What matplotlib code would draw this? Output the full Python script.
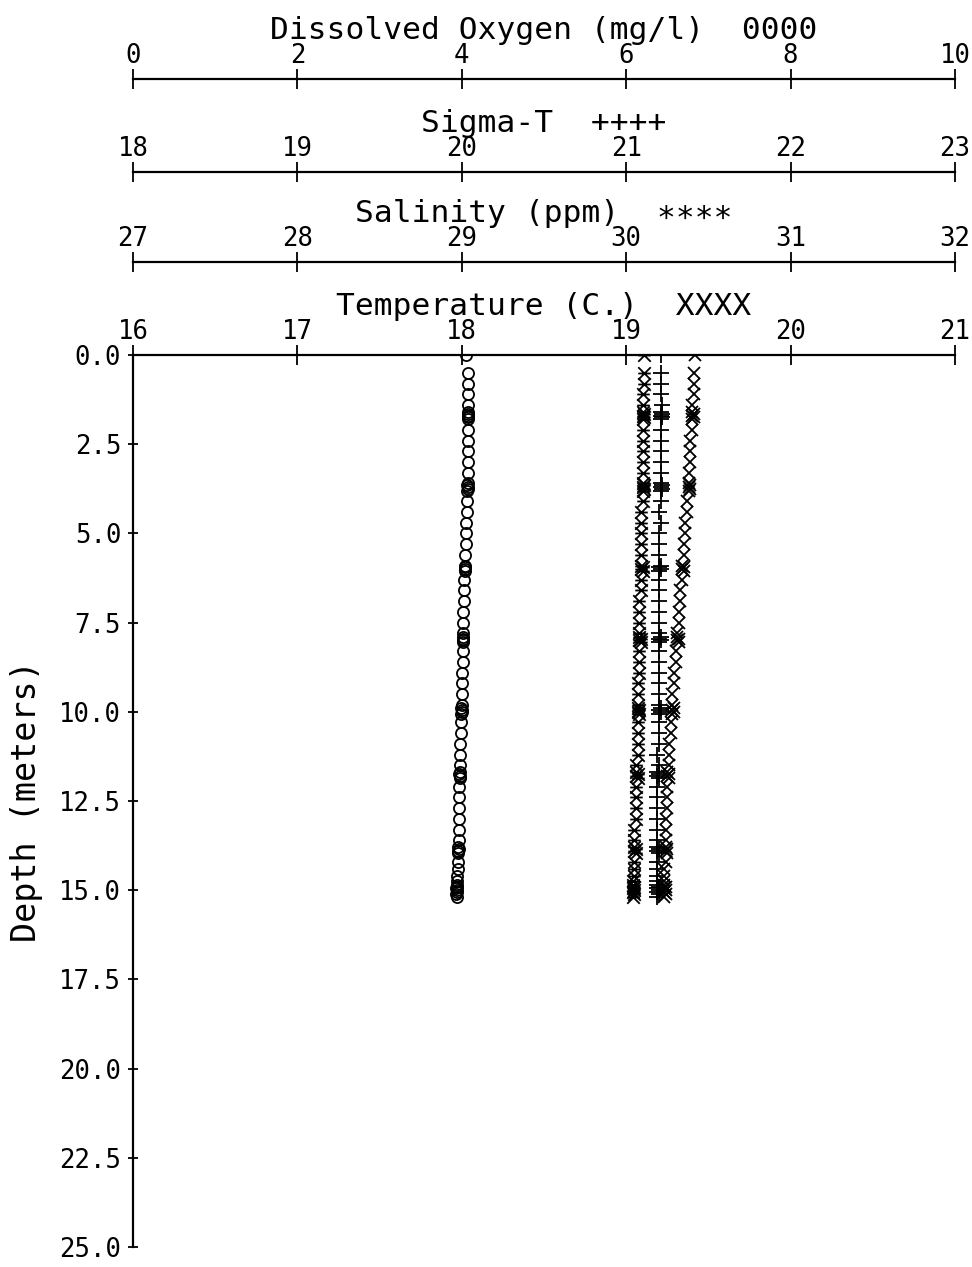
import matplotlib
matplotlib.use('Agg')
import matplotlib.pyplot as plt
from matplotlib.path import Path

plt.rcParams['font.family'] = ['DejaVu Sans Mono', 'DejaVu Sans']

# depth of each cast sample (m)
depth = [0.0, 0.5, 0.8, 1.1, 1.4, 1.6, 1.65, 1.7, 1.75, 1.8,
         2.1, 2.4, 2.7, 3.0, 3.3, 3.6, 3.65, 3.7, 3.75, 3.8,
         4.1, 4.4, 4.7, 5.0, 5.3, 5.6, 5.9, 5.95, 6.0, 6.05,
         6.3, 6.6, 6.9, 7.2, 7.5, 7.8, 7.9, 7.95, 8.0, 8.05,
         8.3, 8.6, 8.9, 9.2, 9.5, 9.8, 9.9, 9.95, 10.0, 10.05,
         10.3, 10.6, 10.9, 11.2, 11.5, 11.7, 11.75, 11.8, 11.85, 12.1,
         12.4, 12.7, 13.0, 13.3, 13.6, 13.8, 13.85, 13.9, 13.95, 14.2,
         14.4, 14.6, 14.75, 14.85, 14.9, 14.95, 15.0, 15.05, 15.1, 15.2]

oxygen = [4.05, 4.07, 4.07, 4.08, 4.08, 4.08, 4.07, 4.08, 4.08, 4.07,
          4.08, 4.08, 4.07, 4.07, 4.07, 4.07, 4.06, 4.07, 4.07, 4.06,
          4.06, 4.06, 4.05, 4.05, 4.05, 4.04, 4.04, 4.04, 4.04, 4.04,
          4.03, 4.03, 4.03, 4.02, 4.02, 4.02, 4.01, 4.02, 4.02, 4.01,
          4.01, 4.01, 4.00, 4.00, 4.00, 4.00, 3.99, 4.00, 4.00, 3.99,
          3.99, 3.99, 3.98, 3.98, 3.98, 3.98, 3.97, 3.98, 3.98, 3.97,
          3.97, 3.97, 3.96, 3.96, 3.96, 3.95, 3.96, 3.95, 3.95, 3.95,
          3.95, 3.94, 3.94, 3.94, 3.94, 3.93, 3.94, 3.94, 3.93, 3.94]

sigma_t = [21.21, 21.21, 21.21, 21.21, 21.22, 21.21, 21.22, 21.21, 21.22, 21.21,
           21.21, 21.21, 21.21, 21.21, 21.21, 21.21, 21.22, 21.21, 21.22, 21.21,
           21.21, 21.20, 21.21, 21.20, 21.20, 21.20, 21.21, 21.20, 21.21, 21.20,
           21.20, 21.20, 21.20, 21.20, 21.20, 21.20, 21.21, 21.20, 21.21, 21.20,
           21.20, 21.20, 21.20, 21.20, 21.20, 21.20, 21.21, 21.20, 21.21, 21.20,
           21.20, 21.20, 21.20, 21.19, 21.20, 21.19, 21.20, 21.19, 21.20, 21.19,
           21.19, 21.19, 21.19, 21.19, 21.19, 21.19, 21.20, 21.19, 21.20, 21.19,
           21.19, 21.19, 21.19, 21.19, 21.20, 21.19, 21.20, 21.19, 21.20, 21.19]

salinity = [30.11, 30.11, 30.11, 30.10, 30.10, 30.10, 30.11, 30.10, 30.11, 30.10,
            30.10, 30.10, 30.10, 30.10, 30.10, 30.10, 30.11, 30.10, 30.11, 30.10,
            30.10, 30.09, 30.09, 30.09, 30.09, 30.09, 30.09, 30.10, 30.09, 30.10,
            30.09, 30.09, 30.08, 30.08, 30.08, 30.08, 30.08, 30.09, 30.08, 30.09,
            30.08, 30.08, 30.08, 30.07, 30.07, 30.07, 30.07, 30.08, 30.07, 30.08,
            30.07, 30.07, 30.07, 30.07, 30.06, 30.06, 30.07, 30.06, 30.07, 30.06,
            30.06, 30.06, 30.06, 30.05, 30.05, 30.05, 30.06, 30.05, 30.06, 30.05,
            30.05, 30.05, 30.04, 30.04, 30.05, 30.04, 30.05, 30.04, 30.05, 30.04]

temperature = [19.42, 19.41, 19.41, 19.41, 19.40, 19.40, 19.41, 19.40, 19.41, 19.40,
               19.40, 19.39, 19.39, 19.39, 19.38, 19.38, 19.39, 19.38, 19.39, 19.38,
               19.37, 19.37, 19.36, 19.36, 19.35, 19.35, 19.34, 19.35, 19.34, 19.35,
               19.34, 19.33, 19.33, 19.32, 19.32, 19.31, 19.31, 19.32, 19.31, 19.32,
               19.30, 19.30, 19.29, 19.29, 19.28, 19.28, 19.29, 19.28, 19.29, 19.28,
               19.27, 19.27, 19.26, 19.26, 19.26, 19.25, 19.26, 19.25, 19.26, 19.25,
               19.25, 19.25, 19.24, 19.24, 19.24, 19.24, 19.25, 19.24, 19.25, 19.24,
               19.23, 19.23, 19.23, 19.23, 19.24, 19.23, 19.24, 19.23, 19.24, 19.23]

depth_ticks = [0.0, 2.5, 5.0, 7.5, 10.0, 12.5, 15.0, 17.5, 20.0, 22.5, 25.0]
temp_ticks = [16, 17, 18, 19, 20, 21]
sal_ticks = [27, 28, 29, 30, 31, 32]
sig_ticks = [18, 19, 20, 21, 22, 23]
do_ticks = [0, 2, 4, 6, 8, 10]

TICK_FS = 18.5
LABEL_FS = 22.5
LW = 1.6

fig = plt.figure(figsize=(9.72, 12.67), dpi=100)
ax = fig.add_axes([0.13683, 0.01579, 0.84568, 0.70403])
ax.set_xlim(16, 21)
ax.set_ylim(25, 0)


def make_scale(offset, lim, ticks, label):
    t = ax.twiny()
    t.set_xlim(lim)
    for s in ['left', 'right', 'bottom']:
        t.spines[s].set_visible(False)
    t.spines['top'].set_position(('outward', offset))
    t.spines['top'].set_linewidth(LW)
    t.set_xticks(ticks)
    t.tick_params(axis='x', direction='inout', length=14, width=1.3,
                  labelsize=TICK_FS, pad=0)
    t.set_xlabel(label, fontsize=LABEL_FS, labelpad=3)
    return t


ax_sal = make_scale(67, (27, 32), sal_ticks, 'Salinity (ppm)  \u2217\u2217\u2217\u2217')
ax_sig = make_scale(132, (18, 23), sig_ticks, 'Sigma-T  ++++')
ax_do = make_scale(199, (0, 10), do_ticks, 'Dissolved Oxygen (mg/l)  0000')

# twiny() moves the main x ticks to the bottom, so set the main axis up afterwards
ax.spines['right'].set_visible(False)
ax.spines['bottom'].set_visible(False)
ax.spines['left'].set_linewidth(LW)
ax.spines['top'].set_linewidth(LW)
ax.xaxis.tick_top()
ax.xaxis.set_label_position('top')
ax.set_xticks(temp_ticks)
ax.set_yticks(depth_ticks)
ax.set_yticklabels(['%.1f' % v for v in depth_ticks])
ax.tick_params(axis='x', direction='inout', length=14, width=1.3,
               labelsize=TICK_FS, pad=0)
ax.tick_params(axis='y', direction='inout', length=7, width=1.3,
               labelsize=TICK_FS, pad=5)
ax.set_xlabel('Temperature (C.)  XXXX', fontsize=LABEL_FS, labelpad=3)
ax.set_ylabel('Depth (meters)', fontsize=24, labelpad=12)

star = Path([(-1, -1), (1, 1), (-1, 1), (1, -1), (-1, 0), (1, 0)],
            [Path.MOVETO, Path.LINETO, Path.MOVETO, Path.LINETO,
             Path.MOVETO, Path.LINETO])

ax_do.plot(oxygen, depth, ls='none', marker='o', ms=8, mfc='none',
           mec='black', mew=1.3)
ax_sig.plot(sigma_t, depth, ls='none', marker='+', ms=11, mec='black', mew=1.3)
ax_sal.plot(salinity, depth, ls='none', marker=star, ms=9, mfc='none',
            mec='black', mew=1.3)
ax.plot(temperature, depth, ls='none', marker='x', ms=9, mec='black', mew=1.3)

fig.savefig('out.png', dpi=100)
